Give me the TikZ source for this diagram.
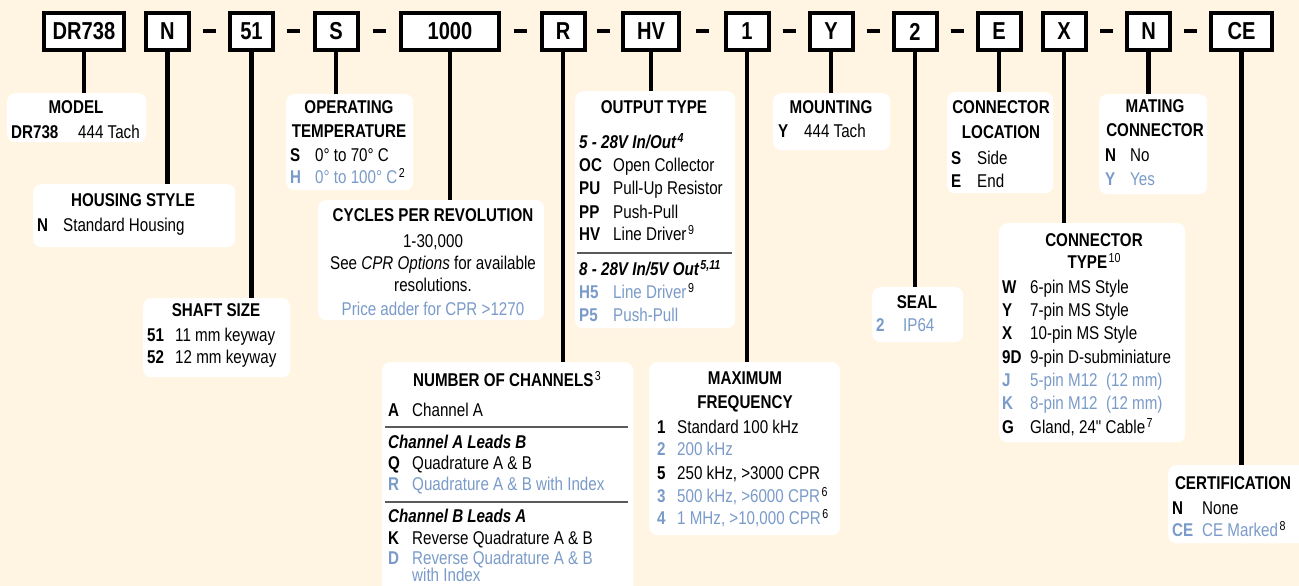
\documentclass[tikz,border=0pt]{standalone}
\usepackage{fontspec}
\setmainfont{Liberation Sans}[FakeStretch=0.82, Ligatures=TeXOff]
\usetikzlibrary{calc}
\definecolor{cream}{RGB}{255,245,226}
\definecolor{blu}{RGB}{122,155,201}
\definecolor{rulegray}{RGB}{90,90,90}
\newcommand\ttlf{\fontsize{18.5}{21}\selectfont\bfseries}
\newcommand\dscf{\fontsize{18.5}{21}\selectfont}
\newcommand\codef{\fontsize{24.5}{26}\selectfont\bfseries}
\newcommand\spx[1]{\hspace{1.5pt}\raisebox{6.5pt}{\fontsize{13}{13}\selectfont\color{black}#1}}
\tikzset{
  code/.style={draw=black, line width=4pt, fill=white, inner sep=0pt, minimum height=37pt, font=\codef},
  info/.style={fill=white, rounded corners=8pt, inner sep=0pt, anchor=north west},
  lead/.style={line width=4.5pt, black},
  hyph/.style={line width=4pt, black},
  sep/.style={line width=1.5pt, rulegray},
  ttl/.style={font=\ttlf, inner sep=0pt, anchor=base},
  key/.style={font=\ttlf, inner sep=0pt, anchor=base west},
  dsc/.style={font=\dscf, inner sep=0pt, anchor=base west},
  ctr/.style={font=\dscf, inner sep=0pt, anchor=base},
  hdr/.style={font=\ttlf\itshape, inner sep=0pt, anchor=base west},
  bl/.style={text=blu}
}
\begin{document}
\begin{tikzpicture}[x=1pt,y=-1pt]
\fill[cream] (0,0) rectangle (1299,586);
\useasboundingbox (0,0) rectangle (1299,586);

% ---------- code boxes ----------
\node[code, minimum width=80pt] (cDR) at (84,31.5) {DR738};
\node[code, minimum width=43pt] (cN) at (167.5,31.5) {N};
\node[code, minimum width=43pt] (c51) at (251.5,31.5) {51};
\node[code, minimum width=43pt] (cS) at (336,31.5) {S};
\node[code, minimum width=98pt] (c1000) at (450,31.5) {1000};
\node[code, minimum width=43pt] (cR) at (563,31.5) {R};
\node[code, minimum width=56pt] (cHV) at (651,31.5) {HV};
\node[code, minimum width=43pt] (c1) at (747,31.5) {1};
\node[code, minimum width=43pt] (cY) at (831,31.5) {Y};
\node[code, minimum width=43pt] (c2) at (915,31.5) {2};
\node[code, minimum width=43pt] (cE) at (999,31.5) {E};
\node[code, minimum width=43pt] (cX) at (1064,31.5) {X};
\node[code, minimum width=43pt] (cN2) at (1148.5,31.5) {N};
\node[code, minimum width=61pt] (cCE) at (1241.5,31.5) {CE};

\foreach \a/\b in {N/51,51/S,S/1000,1000/R,R/HV,HV/1,1/Y,Y/2,2/E,X/N2,N2/CE}{
  \coordinate (h\a) at ($(c\a.east)!0.5!(c\b.west)$);
  \draw[hyph] ([xshift=-6.5pt]h\a) -- ([xshift=6.5pt]h\a);
}

% ---------- info boxes ----------
\node[info, minimum width=139pt, minimum height=49pt] (iModel) at (7,93) {};
\node[info, minimum width=202pt, minimum height=63pt] (iHouse) at (33,184) {};
\node[info, minimum width=147pt, minimum height=79pt] (iShaft) at (143,298) {};
\node[info, minimum width=127pt, minimum height=96pt] (iTemp) at (286,94) {};
\node[info, minimum width=226pt, minimum height=120pt] (iCPR) at (318,200) {};
\node[info, minimum width=160pt, minimum height=237pt] (iOut) at (575,91) {};
\node[info, minimum width=117pt, minimum height=57pt] (iMount) at (773,93) {};
\node[info, minimum width=91pt, minimum height=55pt] (iSeal) at (872,287) {};
\node[info, minimum width=106pt, minimum height=101pt] (iLoc) at (947,92) {};
\node[info, minimum width=108pt, minimum height=100pt] (iMate) at (1099,94) {};
\node[info, minimum width=186pt, minimum height=219pt] (iType) at (999,223) {};
\node[info, minimum width=140pt, minimum height=78pt] (iCert) at (1168,465) {};
\node[info, minimum width=251pt, minimum height=240pt] (iChan) at (382,362) {};
\node[info, minimum width=191pt, minimum height=173pt] (iFreq) at (649,362) {};

% ---------- leads ----------
\foreach \c/\i in {cDR/iModel,cN/iHouse,c51/iShaft,cS/iTemp,c1000/iCPR,cR/iChan,cHV/iOut,c1/iFreq,cY/iMount,c2/iSeal,cE/iLoc,cX/iType,cN2/iMate,cCE/iCert}{
  \draw[lead] (\c.south) -- (\c.south |- \i.north);
}

% ---------- MODEL ----------
\node[ttl] (tModel) at (76,113.5) {MODEL};
\node[key] (kModel) at (11,138.5) {DR738};
\node[dsc] (dModel) at (78,138.5) {444 Tach};

% ---------- HOUSING ----------
\node[ttl] (tHouse) at (133,206.5) {HOUSING STYLE};
\node[key] (kHouse) at (37,231.5) {N};
\node[dsc] (dHouse) at (63,231.5) {Standard Housing};

% ---------- SHAFT ----------
\node[ttl] (tShaft) at (216,316.5) {SHAFT SIZE};
\node[key] (kSh1) at (147,341.5) {51};
\node[dsc] (dSh1) at (175,341.5) {11 mm keyway};
\node[key] (kSh2) at (147,363.5) {52};
\node[dsc] (dSh2) at (175,363.5) {12 mm keyway};

% ---------- TEMPERATURE ----------
\node[ttl] (tTemp1) at (349,113.5) {OPERATING};
\node[ttl] (tTemp2) at (349,137.5) {TEMPERATURE};
\node[key] (kT1) at (290,161.5) {S};
\node[dsc] (dT1) at (315,161.5) {0° to 70° C};
\node[key,bl] (kT2) at (290,183.5) {H};
\node[dsc,bl] (dT2) at (315,183.5) {0° to 100° C\spx{2}};

% ---------- CPR ----------
\node[ttl] (tCPR) at (433,221.5) {CYCLES PER REVOLUTION};
\node[ctr] (l1CPR) at (433,247.5) {1-30,000};
\node[ctr] (l2CPR) at (433,269.5) {See \textit{CPR Options} for available};
\node[ctr] (l3CPR) at (433,291.5) {resolutions.};
\node[ctr,bl] (l4CPR) at (433,315) {Price adder for CPR >1270};

% ---------- OUTPUT ----------
\node[ttl] (tOut) at (654,113.5) {OUTPUT TYPE};
\node[hdr] (hOut1) at (579,148.5) {5 - 28V In/Out\spx{4}};
\node[key] (kO1) at (579,171.5) {OC};
\node[dsc] (dO1) at (613,171.5) {Open Collector};
\node[key] (kO2) at (579,194.5) {PU};
\node[dsc] (dO2) at (613,194.5) {Pull-Up Resistor};
\node[key] (kO3) at (579,218) {PP};
\node[dsc] (dO3) at (613,218) {Push-Pull};
\node[key] (kO4) at (579,240.5) {HV};
\node[dsc] (dO4) at (613,240.5) {Line Driver\spx{9}};
\draw[sep] (577,253) -- (732,253);
\node[hdr] (hOut2) at (579,275.5) {8 - 28V In/5V Out\spx{5,11}};
\node[key,bl] (kO5) at (579,298.5) {H5};
\node[dsc,bl] (dO5) at (613,298.5) {Line Driver\spx{9}};
\node[key,bl] (kO6) at (579,321) {P5};
\node[dsc,bl] (dO6) at (613,321) {Push-Pull};

% ---------- MOUNTING ----------
\node[ttl] (tMount) at (831,113.5) {MOUNTING};
\node[key] (kMount) at (778,137.5) {Y};
\node[dsc] (dMount) at (804,137.5) {444 Tach};

% ---------- SEAL ----------
\node[ttl] (tSeal) at (917,308.5) {SEAL};
\node[key,bl] (kSeal) at (876,331.5) {2};
\node[dsc,bl] (dSeal) at (903,331.5) {IP64};

% ---------- CONNECTOR LOCATION ----------
\node[ttl] (tLoc1) at (1001,113.5) {CONNECTOR};
\node[ttl] (tLoc2) at (1001,138.5) {LOCATION};
\node[key] (kL1) at (951,164.5) {S};
\node[dsc] (dL1) at (977,164.5) {Side};
\node[key] (kL2) at (951,187.5) {E};
\node[dsc] (dL2) at (977,187.5) {End};

% ---------- MATING ----------
\node[ttl] (tMate1) at (1155,112.5) {MATING};
\node[ttl] (tMate2) at (1155,136.5) {CONNECTOR};
\node[key] (kM1) at (1105,161.5) {N};
\node[dsc] (dM1) at (1130,161.5) {No};
\node[key,bl] (kM2) at (1105,185.5) {Y};
\node[dsc,bl] (dM2) at (1130,185.5) {Yes};

% ---------- CONNECTOR TYPE ----------
\node[ttl] (tType1) at (1094,246.5) {CONNECTOR};
\node[ttl] (tType2) at (1094,268.5) {TYPE\spx{\mdseries 10}};
\node[key] (kC1) at (1002,293.5) {W};
\node[dsc] (dC1) at (1030,293.5) {6-pin MS Style};
\node[key] (kC2) at (1002,316.5) {Y};
\node[dsc] (dC2) at (1030,316.5) {7-pin MS Style};
\node[key] (kC3) at (1002,339.5) {X};
\node[dsc] (dC3) at (1030,339.5) {10-pin MS Style};
\node[key] (kC4) at (1002,363.5) {9D};
\node[dsc] (dC4) at (1030,363.5) {9-pin D-subminiature};
\node[key,bl] (kC5) at (1002,386.5) {J};
\node[dsc,bl] (dC5) at (1030,386.5) {5-pin M12\ \ (12 mm)};
\node[key,bl] (kC6) at (1002,409.5) {K};
\node[dsc,bl] (dC6) at (1030,409.5) {8-pin M12\ \ (12 mm)};
\node[key] (kC7) at (1002,433.5) {G};
\node[dsc] (dC7) at (1030,433.5) {Gland, 24" Cable\spx{7}};

% ---------- CERTIFICATION ----------
\node[ttl] (tCert) at (1233,489.5) {CERTIFICATION};
\node[key] (kCe1) at (1172,514.5) {N};
\node[dsc] (dCe1) at (1202,514.5) {None};
\node[key,bl] (kCe2) at (1172,536.5) {CE};
\node[dsc,bl] (dCe2) at (1202,536.5) {CE Marked\spx{8}};

% ---------- CHANNELS ----------
\node[ttl] (tChan) at (507,386.5) {NUMBER OF CHANNELS\spx{\mdseries 3}};
\node[key] (kCh1) at (388,416.5) {A};
\node[dsc] (dCh1) at (412,416.5) {Channel A};
\draw[sep] (385,427) -- (628,427);
\node[hdr] (hCh1) at (388,448.5) {Channel A Leads B};
\node[key] (kCh2) at (388,469.5) {Q};
\node[dsc] (dCh2) at (412,469.5) {Quadrature A \& B};
\node[key,bl] (kCh3) at (388,490.5) {R};
\node[dsc,bl] (dCh3) at (412,490.5) {Quadrature A \& B with Index};
\draw[sep] (385,502) -- (628,502);
\node[hdr] (hCh2) at (388,522.5) {Channel B Leads A};
\node[key] (kCh4) at (388,544) {K};
\node[dsc] (dCh4) at (412,544) {Reverse Quadrature A \& B};
\node[key,bl] (kCh5) at (388,564) {D};
\node[dsc,bl] (dCh5) at (412,564) {Reverse Quadrature A \& B};
\node[dsc,bl] (dCh6) at (412,581.5) {with Index};

% ---------- MAX FREQUENCY ----------
\node[ttl] (tFreq1) at (745,384.5) {MAXIMUM};
\node[ttl] (tFreq2) at (745,408.5) {FREQUENCY};
\node[key] (kF1) at (657,433.5) {1};
\node[dsc] (dF1) at (677,433.5) {Standard 100 kHz};
\node[key,bl] (kF2) at (657,455.5) {2};
\node[dsc,bl] (dF2) at (677,455.5) {200 kHz};
\node[key] (kF3) at (657,479.5) {5};
\node[dsc] (dF3) at (677,479.5) {250 kHz, >3000 CPR};
\node[key,bl] (kF4) at (657,502.5) {3};
\node[dsc,bl] (dF4) at (677,502.5) {500 kHz, >6000 CPR\spx{6}};
\node[key,bl] (kF5) at (657,524.5) {4};
\node[dsc,bl] (dF5) at (677,524.5) {1 MHz, >10,000 CPR\spx{6}};
\end{tikzpicture}
\end{document}
